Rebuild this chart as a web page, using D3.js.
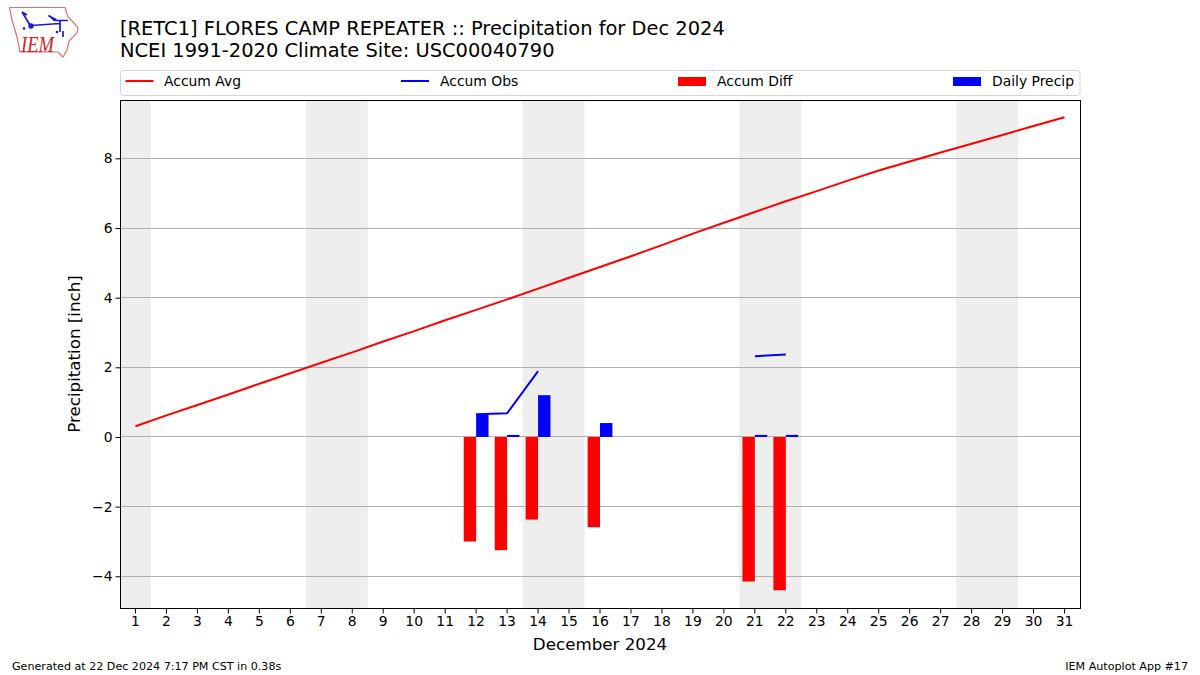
<!DOCTYPE html>
<html><head><meta charset="utf-8">
<script src="https://cdn.jsdelivr.net/npm/d3@7"></script>
<style>html,body{margin:0;padding:0;background:#fff}svg{display:block}text{font-family:"DejaVu Sans";fill:#000}</style>
</head><body><svg id="c" width="1200" height="675"></svg>
<script>
const days = d3.range(1, 32);
const accumAvg = [0.31,0.62,0.92,1.22,1.53,1.83,2.13,2.43,2.74,3.04,3.35,3.65,3.95,4.26,4.57,4.88,5.19,5.51,5.84,6.15,6.46,6.77,7.06,7.36,7.65,7.91,8.17,8.42,8.67,8.93,9.18];
const accumObs = [null,null,null,null,null,null,null,null,null,null,null,0.65,0.68,1.89,null,null,null,null,null,null,2.32,2.37,null,null,null,null,null,null,null,null,null];
const accumDiff = [null,null,null,null,null,null,null,null,null,null,null,-3.0,-3.25,-2.37,null,-2.59,null,null,null,null,-4.15,-4.4,null,null,null,null,null,null,null,null,null];
const dailyPrecip = [null,null,null,null,null,null,null,null,null,null,null,0.65,0.06,1.2,null,0.4,null,null,null,null,0.06,0.06,null,null,null,null,null,null,null,null,null];
const weekends = [[0.5,1.5],[6.5,8.5],[13.5,15.5],[20.5,22.5],[27.5,29.5]];
const yTicks = [-4,-2,0,2,4,6,8];
const legendItems = [["Accum Avg","line","#ff0000"],["Accum Obs","line","#0000ff"],["Accum Diff","bar","#ff0000"],["Daily Precip","bar","#0000ff"]];
const title1 = "[RETC1] FLORES CAMP REPEATER :: Precipitation for Dec 2024";
const title2 = "NCEI 1991-2020 Climate Site: USC00040790";

const L=120,R=1080,T=100,B=608;
const svg=d3.select("#c");
const x=d3.scaleLinear().domain([0.5,31.5]).range([L,R]);
const y=d3.scaleLinear().domain([-4.91,9.675]).range([B,T]);
const barW=x(1.4)-x(1);
const g=svg.append("g");

g.selectAll("rect.w").data(weekends).join("rect").attr("x",d=>x(d[0])).attr("width",d=>x(d[1])-x(d[0])).attr("y",T).attr("height",B-T).attr("fill","#eeeeee");
const gy=d=>Math.floor(y(d))+.5;
g.selectAll("line.g").data(yTicks).join("line").attr("x1",L).attr("x2",R).attr("y1",gy).attr("y2",gy).attr("stroke","#b0b0b0").attr("stroke-width",1);

const bar=(vals,off,color)=>g.append("g").selectAll("rect").data(days.filter(d=>vals[d-1]!=null)).join("rect")
 .attr("x",d=>x(d+off)).attr("width",barW)
 .attr("y",d=>y(Math.max(0,vals[d-1]))).attr("height",d=>Math.abs(y(vals[d-1])-y(0))).attr("fill",color);
bar(accumDiff,-0.4,"#ff0000");
bar(dailyPrecip,0,"#0000ff");

const line=d3.line().defined(d=>d[1]!=null).x(d=>x(d[0])).y(d=>y(d[1]));
g.append("path").attr("d",line(days.map((d,i)=>[d,accumAvg[i]]))).attr("fill","none").attr("stroke","#ff0000").attr("stroke-width",2);
g.append("path").attr("d",line(days.map((d,i)=>[d,accumObs[i]]))).attr("fill","none").attr("stroke","#0000ff").attr("stroke-width",2);

g.append("rect").attr("x",L+.5).attr("y",T+.5).attr("width",R-L).attr("height",B-T).attr("fill","none").attr("stroke","#000").attr("stroke-width",1);

const xAxis=d3.axisBottom(x).tickValues(days).tickFormat(d3.format("d")).tickSize(5).tickPadding(3).offset(0);
const ax=svg.append("g").attr("transform",`translate(0,${B+.5})`).call(xAxis);
const yAxis=d3.axisLeft(y).tickValues(yTicks).tickFormat(d=>String(d).replace("-","\u2212")).tickSize(5).tickPadding(3).offset(.5);
const ay=svg.append("g").attr("transform",`translate(${L+.5},0)`).call(yAxis);
[ax,ay].forEach(a=>{a.select(".domain").remove();a.selectAll("text").attr("font-size",13.9).attr("font-family","DejaVu Sans");a.selectAll("line").attr("stroke","#000")});

svg.append("text").attr("x",600).attr("y",649.5).attr("text-anchor","middle").attr("font-size",16.7).text("December 2024");
svg.append("text").attr("transform","translate(80,354) rotate(-90)").attr("text-anchor","middle").attr("font-size",16.7).text("Precipitation [inch]");
svg.append("text").attr("x",120).attr("y",35).attr("font-size",19.46).text(title1);
svg.append("text").attr("x",120).attr("y",57).attr("font-size",19.46).text(title2);
svg.append("text").attr("x",12).attr("y",670).attr("font-size",11.12).text("Generated at 22 Dec 2024 7:17 PM CST in 0.38s");
svg.append("text").attr("x",1188).attr("y",670).attr("text-anchor","end").attr("font-size",11.12).text("IEM Autoplot App #17");

// legend
svg.append("rect").attr("x",120.5).attr("y",70.5).attr("width",959.5).attr("height",25).attr("rx",3).attr("fill","#fff").attr("stroke","#d5d5d5");
const keyX=[125.5,401,678,953];
legendItems.forEach((it,i)=>{
 const k=keyX[i];
 if(it[1]=="line") svg.append("line").attr("x1",k).attr("x2",k+28).attr("y1",81).attr("y2",81).attr("stroke",it[2]).attr("stroke-width",2);
 else svg.append("rect").attr("x",k).attr("y",77).attr("width",28).attr("height",9).attr("fill",it[2]);
 svg.append("text").attr("x",Math.round(k+38.5)).attr("y",86).attr("font-size",13.9).text(it[0]);
});

// logo
const logo=svg.append("g");
logo.append("path").attr("d","M9.5 7.5 L65 7.5 L68 17 L74 23 L78 28 L77 33 L69 41 L67 50 L63 57 L58 52 L20 52 L17 37 L12 20 Z").attr("fill","#fff").attr("stroke","#dc6f6f").attr("stroke-width",1.2);
logo.append("path").attr("d","M31 25.5 L60 23.5 M60 20 L60 32 M63 31 L63 37 M48.5 15.5 L56 20.5 L68 20.5 M22 12 L27 15 M22 12 L30 25").attr("fill","none").attr("stroke","#1a1ad0").attr("stroke-width",1.7);
logo.append("circle").attr("cx",31).attr("cy",26).attr("r",2.7).attr("fill","#1a1ad0");
logo.append("path").attr("d","M48 15 L57 19 L54 21.5 Z").attr("fill","#1a1ad0");
logo.append("circle").attr("cx",24).attr("cy",28.5).attr("r",1.4).attr("fill","#3a3ad0");
logo.append("circle").attr("cx",57).attr("cy",32).attr("r",1.3).attr("fill","#1a1ad0");
logo.append("text").attr("x",21).attr("y",52).attr("font-size",24).attr("font-style","italic").attr("textLength",33).attr("lengthAdjust","spacingAndGlyphs").style("font-family","Liberation Serif").style("fill","#d42020").text("IEM");
</script></body></html>
